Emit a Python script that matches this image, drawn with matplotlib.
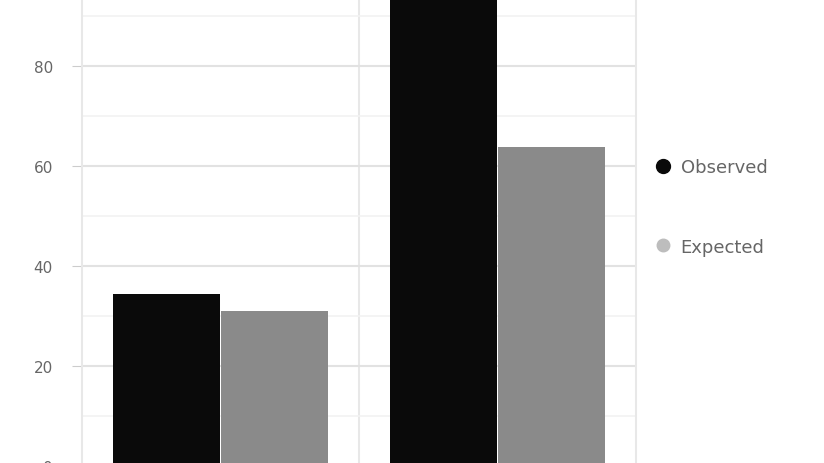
import matplotlib
matplotlib.use("Agg")
import matplotlib.pyplot as plt
import numpy as np
from matplotlib.lines import Line2D

categories = ["A", "B"]
series_names = ["Observed", "Expected"]
series1 = [34.4, 98.0]
series2 = [31.0, 63.8]
yticks = [0, 20, 40, 60, 80]
colors = ["#0a0a0a", "#8a8a8a"]

fig = plt.figure(figsize=(8.24, 4.64), dpi=100)
W, H = 824, 464
left, right = 82, 636
y0, y1 = 467, -33
ax = fig.add_axes([left / W, (H - y0) / H, (right - left) / W, (y0 - y1) / H])

x = np.arange(len(categories))
bw = 0.385
ax.bar(x - 0.195, series1, width=bw, color=colors[0], zorder=3)
ax.bar(x + 0.195, series2, width=bw, color=colors[1], zorder=3)

ax.set_xlim(-0.5, len(categories) - 0.5)
ax.set_ylim(0, 100)
ax.set_yticks(yticks)
ax.set_yticks(np.arange(0, 101, 10), minor=True)
ax.tick_params(axis="y", which="major", labelsize=11, labelcolor="#666666",
               color="#cccccc", length=7, pad=14)
ax.tick_params(axis="y", which="minor", length=0)
ax.set_xticks([0.5], minor=False)
ax.tick_params(axis="x", labelbottom=False, length=0)
ax.grid(axis="y", which="major", color="#e2e2e2", linewidth=1.5, zorder=0)
ax.grid(axis="y", which="minor", color="#f2f2f2", linewidth=1.2, zorder=0)
ax.grid(axis="x", which="major", color="#e8e8e8", linewidth=1.5, zorder=0)
for s in ["top", "bottom"]:
    ax.spines[s].set_visible(False)
for s in ["left", "right"]:
    ax.spines[s].set_color("#e8e8e8")
    ax.spines[s].set_linewidth(1.5)

handles = [Line2D([0], [0], marker="o", linestyle="", markersize=10, color=colors[0]),
           Line2D([0], [0], marker="o", linestyle="", markersize=9, color="#bdbdbd")]
fig.legend(handles, series_names, loc="center left", bbox_to_anchor=(650 / W, (H - 208) / H),
           frameon=False, fontsize=13, labelcolor="#666666", handletextpad=0.3,
           handlelength=1.4, labelspacing=3.4, borderaxespad=0, borderpad=0)

fig.savefig("out.png", dpi=100)
